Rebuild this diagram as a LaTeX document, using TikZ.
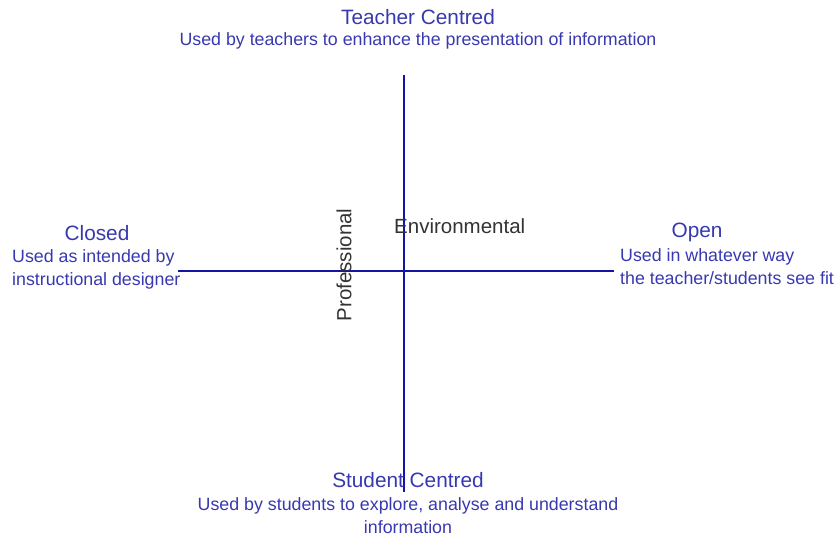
\documentclass[tikz,border=0pt]{standalone}
\usepackage{fontspec}
\setmainfont{Liberation Sans}
\definecolor{txtblue}{HTML}{3838B0}
\definecolor{axisblue}{HTML}{1515A5}
\definecolor{txtgray}{HTML}{333333}
\begin{document}
\begin{tikzpicture}[x=1pt,y=-1pt,
  title/.style={text=txtblue,font=\fontsize{20.8}{23}\selectfont,inner sep=0pt},
  sub/.style={text=txtblue,font=\fontsize{17.8}{23}\selectfont,inner sep=0pt},
  axis/.style={draw=axisblue,line width=1.3pt},
  lab/.style={text=txtgray,font=\fontsize{20.5}{22}\selectfont,inner sep=0pt}]
\useasboundingbox (0,0) rectangle (837,536);
\coordinate (vt) at (404,75);
\coordinate (vb) at (404,492);
\coordinate (hl) at (178,271);
\coordinate (hr) at (614,271);
\draw[axis] (vt) -- (vb);
\draw[axis] (hl) -- (hr);
\node[title] (tc) at (418,17) {Teacher Centred};
\node[sub] (tcs) at (418,41) {Used by teachers to enhance the presentation of information};
\node[title] (cl) at (97,233) {Closed};
\node[sub,anchor=west,align=left] (cls) at (12,269) {Used as intended by\\instructional designer};
\node[title] (op) at (697,232) {Open};
\node[sub,anchor=west,align=left] (ops) at (620,267) {Used in whatever way\\the teacher/students see fit};
\node[title] (sc) at (408,480) {Student Centred};
\node[sub,align=center] (scs) at (408,516) {Used by students to explore, analyse and understand\\information};
\node[lab,anchor=west] (env) at (394,226) {Environmental};
\node[lab,rotate=90] (pro) at (344,265) {Professional};
\end{tikzpicture}
\end{document}
